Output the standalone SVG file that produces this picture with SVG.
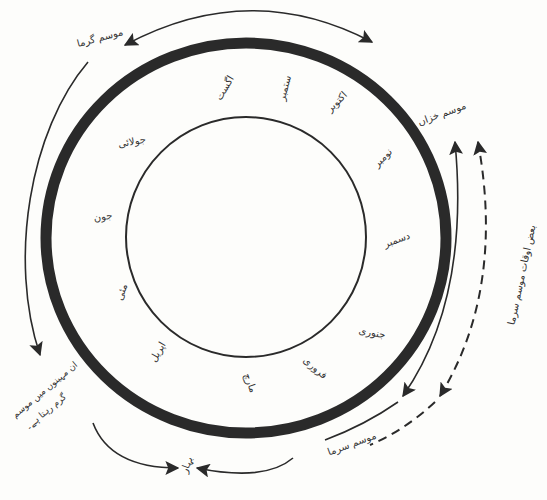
<svg xmlns="http://www.w3.org/2000/svg" width="547" height="500" viewBox="0 0 547 500">
<style>
.t{font-family:"DejaVu Sans","Noto Sans",sans-serif;font-size:10px;fill:#333;text-anchor:middle;dominant-baseline:middle}
.s{font-size:9px}
.c{fill:none;stroke:#2a2a2a;stroke-width:1.6}
.d{fill:none;stroke:#2a2a2a;stroke-width:2;stroke-dasharray:9 6}
</style>
<defs>
<marker id="ahb" viewBox="0 0 10 10" refX="9" refY="5" markerWidth="14" markerHeight="14" orient="auto-start-reverse" markerUnits="userSpaceOnUse">
<path d="M0,0 L10,5 L0,10 L2,5 z" fill="#2a2a2a"/>
</marker>
</defs>
<rect width="547" height="500" fill="#fdfdfb"/>
<g id="rings">
<ellipse cx="246" cy="238" rx="200" ry="195" fill="none" stroke="#2a2a2a" stroke-width="11"/>
<circle cx="246" cy="237" r="120" fill="none" stroke="#2a2a2a" stroke-width="2"/>
</g>
<g id="connectors">
<path class="c" d="M125 45 Q250 -22 372 42" marker-start="url(#ahb)" marker-end="url(#ahb)"/>
<path class="c" d="M88 62 C30 130 8 260 40 355" marker-end="url(#ahb)"/>
<path class="c" d="M403 396 Q470 300 455 142" marker-start="url(#ahb)" marker-end="url(#ahb)"/>
<path class="c" d="M398 402 Q365 425 325 440"/>
<path class="d" d="M440 396 Q505 290 478 142" marker-start="url(#ahb)" marker-end="url(#ahb)"/>
<path class="d" d="M435 402 Q405 430 370 445"/>
<path class="c" d="M93 423 Q110 468 178 468" marker-end="url(#ahb)"/>
<path class="c" d="M293 458 Q265 482 197 468" marker-end="url(#ahb)"/>
</g>
<g id="months">
<text class="t" transform="translate(225,88) rotate(-60)">اگست</text>
<text class="t" transform="translate(285,88) rotate(-75)">ستمبر</text>
<text class="t" transform="translate(337,102) rotate(-45)">اکتوبر</text>
<text class="t" transform="translate(383,158) rotate(-45)">نومبر</text>
<text class="t" transform="translate(397,240) rotate(-20)">دسمبر</text>
<text class="t" transform="translate(372,333) rotate(10)">جنوری</text>
<text class="t" transform="translate(315,368) rotate(40)">فروری</text>
<text class="t" transform="translate(250,383) rotate(70)">مارچ</text>
<text class="t" transform="translate(158,352) rotate(-60)">اپریل</text>
<text class="t" transform="translate(122,292) rotate(-70)">مئی</text>
<text class="t" transform="translate(103,217) rotate(-10)">جون</text>
<text class="t" transform="translate(132,142) rotate(-10)">جولائی</text>
</g>
<g id="summer"><text class="t" transform="translate(100,38) rotate(-15)">موسم گرما</text></g>
<g id="autumn"><text class="t" transform="translate(442,114) rotate(-20)">موسم خزاں</text></g>
<g id="winter"><text class="t" transform="translate(352,444) rotate(-20)">موسم سرما</text></g>
<g id="spring"><text class="t" transform="translate(187,465) rotate(-70)">بہار</text></g>
<g id="note-right"><text class="t" transform="translate(522,275) rotate(-78)">بعض اوقات موسم سرما</text></g>
<g id="note-left">
<text class="t s" transform="translate(45,390) rotate(-40)">ان مہینوں میں موسم</text>
<text class="t s" transform="translate(46,412) rotate(-40)">گرم رہتا ہے۔</text>
</g>
</svg>
